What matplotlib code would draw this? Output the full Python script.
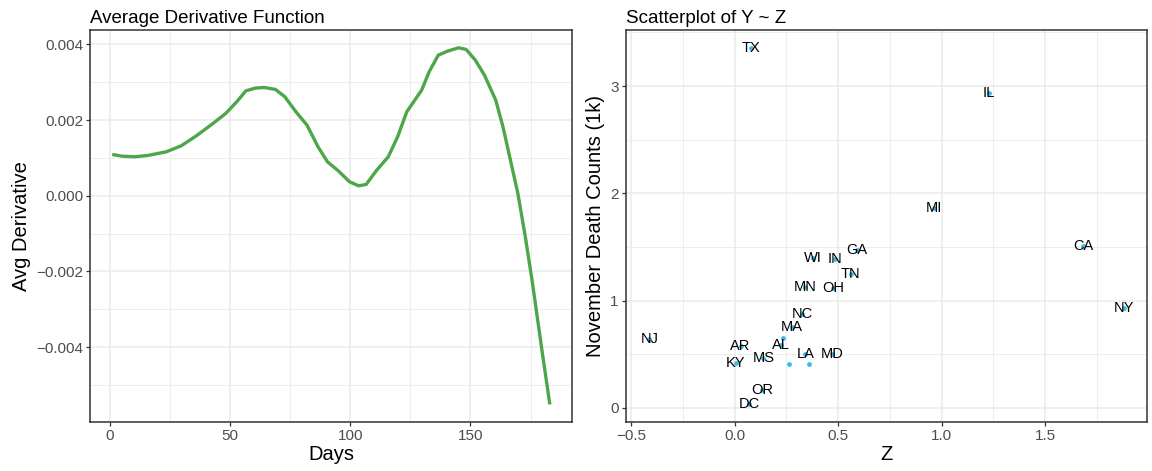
import numpy as np
import matplotlib.pyplot as plt
from matplotlib.ticker import MultipleLocator

plt.rcParams['font.family'] = ['Liberation Sans', 'DejaVu Sans']

# Average derivative function
days = [1, 5, 10.3, 15.8, 23.5, 29.7, 35.8, 42, 48.2, 52.8, 56.6, 60.5,
        64.3, 68.9, 72.8, 77.4, 82, 86.6, 90.5, 95, 99.7, 103.5, 106.6, 111,
        115.8, 119.7, 123.5, 129.7, 132.8, 136.6, 140.5, 145, 148.2, 152,
        155.8, 160.5, 163.5, 166.6, 169.7, 172.8, 175.8, 179.7, 183]
avg_deriv = [0.001093, 0.001048, 0.001031, 0.001066, 0.001163, 0.001322,
             0.001577, 0.001868, 0.002176, 0.002485, 0.002775, 0.002846,
             0.002863, 0.002811, 0.002617, 0.002220, 0.001868, 0.001295,
             0.000899, 0.000661, 0.000370, 0.000264, 0.000300, 0.000678,
             0.001031, 0.001560, 0.002220, 0.002793, 0.003278, 0.003718,
             0.003824, 0.003912, 0.003868, 0.003586, 0.003189, 0.002529,
             0.001824, 0.000943, 0.000062, -0.001084, -0.002317, -0.004079,
             -0.005515]

# Scatterplot of Y ~ Z (empty label = unlabeled point)
states = ["TX", "IL", "MI", "CA", "NY", "GA", "WI", "IN", "TN", "MN", "OH",
          "NC", "MA", "AL", "", "", "", "LA", "MD", "MS", "AR", "KY", "OR",
          "DC", "NJ"]
z_vals = [0.078, 1.227, 0.965, 1.684, 1.878, 0.590, 0.380, 0.484, 0.562,
          0.339, 0.476, 0.326, 0.277, 0.224, 0.236, 0.261, 0.359, 0.342,
          0.473, 0.139, 0.029, 0.005, 0.134, 0.070, -0.411]
deaths = [3.357, 2.935, 1.863, 1.509, 0.935, 1.469, 1.398, 1.388, 1.245,
          1.127, 1.121, 0.879, 0.755, 0.590, 0.655, 0.404, 0.404, 0.497,
          0.497, 0.460, 0.575, 0.422, 0.165, 0.031, 0.640]


def estilo_bw(ax):
    ax.set_facecolor("white")
    ax.grid(which="major", color="#EBEBEB", linewidth=1.1)
    ax.grid(which="minor", color="#EBEBEB", linewidth=0.6)
    ax.set_axisbelow(True)
    for s in ax.spines.values():
        s.set_color("#333333")
        s.set_linewidth(1.1)
    ax.tick_params(which="major", length=3, width=0.9, color="#333333",
                   labelcolor="#4D4D4D", labelsize=11, pad=2)
    ax.tick_params(which="minor", length=0)


fig = plt.figure(figsize=(11.52, 4.71), dpi=100)
ax1 = fig.add_axes([0.0784, 0.1034, 0.4179, 0.833])
ax2 = fig.add_axes([0.5431, 0.1034, 0.4528, 0.833])

# Left panel
estilo_bw(ax1)
ax1.plot(days, avg_deriv, color="#4DA64A", linewidth=2.4,
         solid_capstyle="butt", solid_joinstyle="round")
rng = max(days) - min(days)
ax1.set_xlim(min(days) - 0.05 * rng, max(days) + 0.05 * rng)
rng = max(avg_deriv) - min(avg_deriv)
ax1.set_ylim(min(avg_deriv) - 0.05 * rng, max(avg_deriv) + 0.05 * rng)
ax1.xaxis.set_major_locator(MultipleLocator(50))
ax1.xaxis.set_minor_locator(MultipleLocator(25))
ax1.yaxis.set_major_locator(MultipleLocator(0.002))
ax1.yaxis.set_minor_locator(MultipleLocator(0.001))
ax1.yaxis.set_major_formatter(lambda v, p: f"{v:.3f}".replace("-", "\u2212"))
ax1.set_xlabel("Days", fontsize=14.5, labelpad=1)
ax1.set_ylabel("Avg Derivative", fontsize=14.5, labelpad=4)
ax1.set_title("Average Derivative Function", loc="left", fontsize=13.5, pad=5)

# Right panel
estilo_bw(ax2)
ax2.scatter(z_vals, deaths, s=12, color="#35BDEB", linewidths=0, zorder=3)
for st, zx, dy in zip(states, z_vals, deaths):
    if st:
        ax2.text(zx, dy, st, ha="center", va="center", fontsize=10.5,
                 color="black", zorder=4)
rng = max(z_vals) - min(z_vals)
ax2.set_xlim(min(z_vals) - 0.05 * rng, max(z_vals) + 0.05 * rng)
rng = max(deaths) - min(deaths)
ax2.set_ylim(min(deaths) - 0.05 * rng, max(deaths) + 0.05 * rng)
ax2.xaxis.set_major_locator(MultipleLocator(0.5))
ax2.xaxis.set_minor_locator(MultipleLocator(0.25))
ax2.yaxis.set_major_locator(MultipleLocator(1))
ax2.yaxis.set_minor_locator(MultipleLocator(0.5))
ax2.xaxis.set_major_formatter(lambda v, p: f"{v:.1f}".replace("-", "\u2212"))
ax2.set_xlabel("Z", fontsize=14.5, labelpad=1)
ax2.set_ylabel("November Death Counts (1k)", fontsize=14.5, labelpad=4)
ax2.set_title("Scatterplot of Y ~ Z", loc="left", fontsize=13.5, pad=5)

fig.savefig("out.png", dpi=100)
